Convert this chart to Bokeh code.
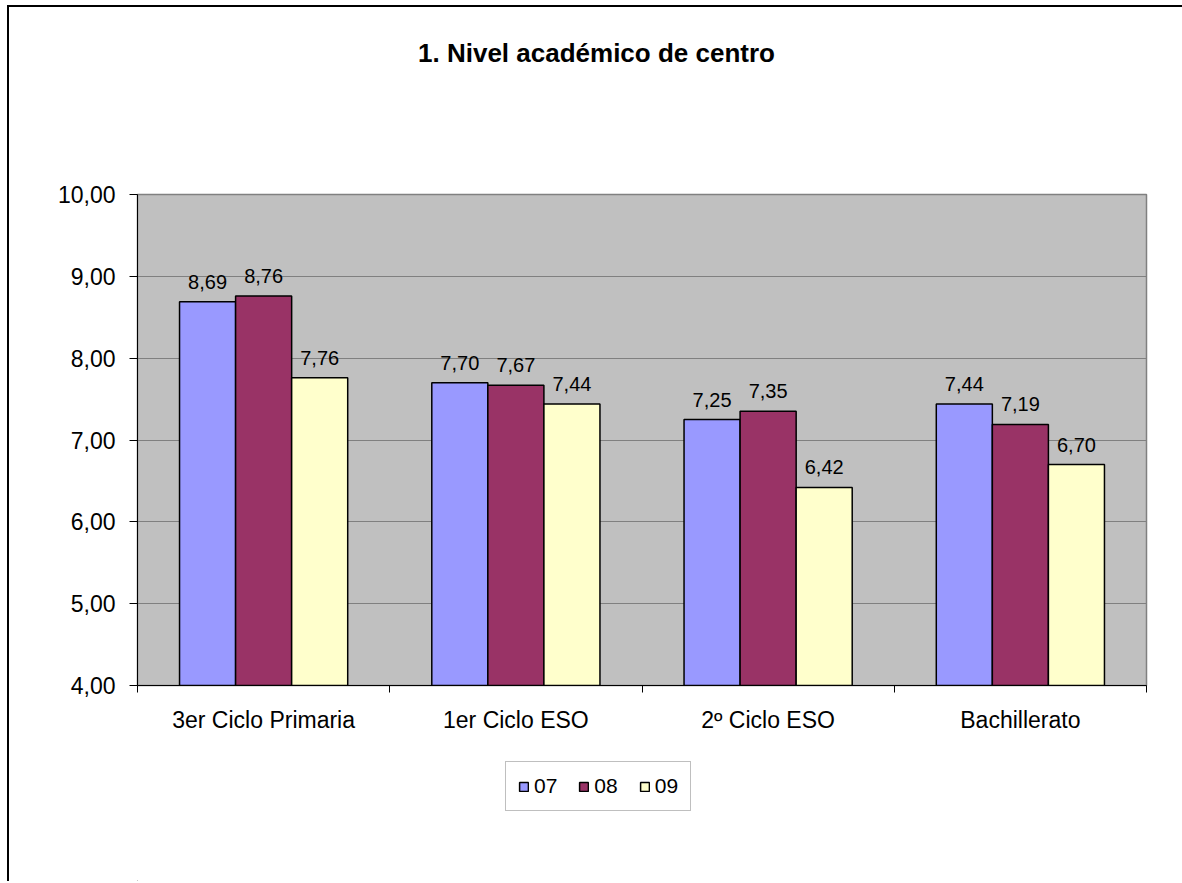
from bokeh.plotting import figure
from bokeh.layouts import column
from bokeh.models import (FactorRange, Range1d, LinearAxis, CategoricalAxis, FixedTicker,
                          CustomJSTickFormatter, ColumnDataSource, LabelSet, Legend,
                          LegendItem, Label)
from bokeh.transform import dodge
from bokeh.core.properties import value
from bokeh.embed import file_html
from bokeh.resources import INLINE

categories = ["3er Ciclo Primaria", "1er Ciclo ESO", "2º Ciclo ESO", "Bachillerato"]
series_names = ["07", "08", "09"]
values_07 = [8.69, 7.70, 7.25, 7.44]
values_08 = [8.76, 7.67, 7.35, 7.19]
values_09 = [7.76, 7.44, 6.42, 6.70]
y_ticks = [4, 5, 6, 7, 8, 9, 10]
title_text = "1. Nivel académico de centro"

colors = ["#9999FF", "#993366", "#FFFFCC"]
FONT = "Liberation Sans"
W = 1173


def blank_fig(h):
    f = figure(width=W, height=h, x_range=Range1d(0, 1), y_range=Range1d(0, 1),
               x_axis_type=None, y_axis_type=None, output_backend="svg",
               toolbar_location=None, min_border=0)
    f.grid.visible = False
    f.outline_line_color = None
    f.background_fill_color = "white"
    f.border_fill_color = "white"
    return f


# ---- title strip (its frame is aligned with the main chart's frame by the column)
ft = blank_fig(167)
ft.add_layout(Label(x=459, y=122, x_units="screen", y_units="screen", text=title_text,
                    text_align="center", text_baseline="alphabetic", text_font=FONT,
                    text_font_size="26px", text_font_style="bold", text_color="black"))

# ---- main chart
p = figure(x_range=FactorRange(factors=categories, range_padding=0),
           y_range=Range1d(4, 10),
           width=W, height=571,
           x_axis_type=None, y_axis_type="linear",
           output_backend="svg", toolbar_location=None,
           min_border_left=128, min_border_right=W - 128 - 1009,
           min_border_top=20, min_border_bottom=60)
p.background_fill_color = "#C0C0C0"
p.border_fill_color = "white"
p.outline_line_color = "#808080"
p.outline_line_width = 1.5
p.xgrid.visible = False
p.ygrid.grid_line_color = "#808080"
p.ygrid.grid_line_width = 1
p.ygrid.ticker = FixedTicker(ticks=y_ticks)

ya = p.yaxis[0]
ya.ticker = FixedTicker(ticks=y_ticks)
ya.formatter = CustomJSTickFormatter(code="return tick.toFixed(2).replace('.', ',');")
ya.major_label_text_font = FONT
ya.major_label_text_font_size = "23px"
ya.major_label_text_color = "black"
ya.major_tick_out = 8
ya.major_tick_in = 0
ya.minor_tick_line_color = None
ya.major_label_standoff = 14
ya.axis_line_color = "black"
ya.major_tick_line_color = "black"

# boundary ticks between categories (synthetic coordinates 0..n)
bax = LinearAxis(ticker=FixedTicker(ticks=list(range(len(categories) + 1))),
                 major_label_text_font_size="0px", major_tick_out=7, major_tick_in=0,
                 minor_tick_line_color=None, major_label_standoff=0,
                 axis_line_color="black", major_tick_line_color="black")
bax.major_label_overrides = {i: "" for i in range(len(categories) + 1)}
p.add_layout(bax, "below")

cax = CategoricalAxis(major_tick_line_color=None, axis_line_color=None,
                      major_label_text_font=FONT, major_label_text_font_size="23px",
                      major_label_text_color="black", major_label_standoff=8)
p.add_layout(cax, "below")

series = [values_07, values_08, values_09]
offsets = [-2 / 9, 0, 2 / 9]
for name, vals, col, off in zip(series_names, series, colors, offsets):
    src = ColumnDataSource(dict(cat=categories, v=vals,
                                t=[f"{v:.2f}".replace(".", ",") for v in vals]))
    p.vbar(x=dodge("cat", off, range=p.x_range), top="v", bottom=0, width=2 / 9,
           source=src, fill_color=col, line_color="black", line_width=1.5)
    p.add_layout(LabelSet(x=dodge("cat", off, range=p.x_range), y="v", text="t", source=src,
                          text_align="center", text_baseline="alphabetic", y_offset=13,
                          text_font=value(FONT), text_font_size="20px", text_color="black"))

# ---- legend strip: off-range proxy renderers that only supply the legend swatches
fl = blank_fig(136)
leg_renderers = [fl.vbar(x=[-5], top=[-5], bottom=[-6], width=1, fill_color=c,
                         line_color="black", line_width=1.5)
                 for c in colors]
legend = Legend(items=[LegendItem(label=n, renderers=[r]) for n, r in zip(series_names, leg_renderers)],
                orientation="horizontal", location=(368, 70),
                glyph_width=11, glyph_height=11, label_standoff=5, spacing=21,
                padding=12, margin=0, border_line_color="#808080", border_line_width=1,
                background_fill_color="white", background_fill_alpha=1,
                label_text_font=FONT, label_text_font_size="21px", label_text_color="black")
fl.add_layout(legend, "center")

layout = column(ft, p, fl, spacing=0, margin=(5, 0, 0, 7),
                stylesheets=[":host { border-left: 2px solid black; border-top: 2px solid black; }"])

open("out.html", "w").write(file_html(layout, INLINE))
